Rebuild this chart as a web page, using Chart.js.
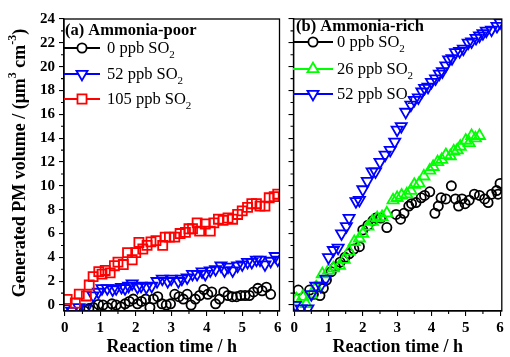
<!DOCTYPE html>
<html>
<head>
<meta charset="utf-8">
<script src="https://cdn.jsdelivr.net/npm/chart.js@4.4.1/dist/chart.umd.min.js"></script>
<style>
  html, body { margin: 0; padding: 0; background: #fff; }
  #wrap { position: relative; width: 510px; height: 357px; }
  #wrap canvas { position: absolute; left: 0; top: 0; }
</style>
</head>
<body>
<div id="wrap">
  <canvas id="poorChart" width="510" height="357"></canvas>
  <canvas id="richChart" width="510" height="357"></canvas>
</div>
<script>
// axis ticks
const xTicks = [0, 1, 2, 3, 4, 5, 6];
const xMinor = [0.5, 1.5, 2.5, 3.5, 4.5, 5.5];
const yTicks = [0, 2, 4, 6, 8, 10, 12, 14, 16, 18, 20, 22, 24];
const yMinor = [1, 3, 5, 7, 9, 11, 13, 15, 17, 19, 21, 23];

// (a) Ammonia-poor
const poorLabels = ['0 ppb SO', '52 ppb SO', '105 ppb SO'];
const poor0T = [0.55,0.68,0.8,0.95,1.08,1.2,1.33,1.45,1.58,1.7,1.82,1.93,2.05,2.16,2.28,2.4,2.5,2.62,2.74,2.86,2.98,3.1,3.22,3.34,3.45,3.56,3.68,3.8,3.92,4.03,4.14,4.25,4.36,4.48,4.6,4.72,4.84,4.96,5.08,5.2,5.32,5.44,5.56,5.68,5.8];
const poor0V = [-0.5,-0.3,-0.2,0.05,0,-0.2,0.1,0,-0.15,0.1,0.3,0.5,0.1,0.3,0.5,-0.2,0.5,0.7,0.1,0,0.1,0.9,0.7,0.5,0.9,0.0,0.5,0.8,1.3,0.9,1.1,0.1,0.5,1.1,0.8,0.7,0.7,0.8,0.8,0.8,1.1,1.4,1.2,1.5,0.9];
const poor52T = [0.0,0.2,0.4,0.6,0.8,0.95,1.05,1.2,1.35,1.45,1.6,1.7,1.8,1.9,2.05,2.15,2.3,2.45,2.6,2.75,2.9,3.0,3.2,3.3,3.45,3.6,3.73,3.87,3.96,4.1,4.25,4.4,4.5,4.6,4.73,4.87,5.0,5.15,5.27,5.4,5.5,5.64,5.8,5.93,6.0];
const poor52V = [-0.3,-0.5,-0.2,-0.3,0.8,1.1,1.4,1.4,1.3,1.4,1.5,1.4,1.6,1.8,1.5,1.6,1.5,1.6,2.0,2.2,2.0,2.2,2.0,2.2,2.3,2.6,2.6,2.8,2.6,2.9,3.0,3.3,2.9,3.2,2.9,3.3,3.4,3.6,3.6,3.8,3.8,3.4,3.7,4.1,3.8];
const poor105T = [0.07,0.3,0.41,0.61,0.69,0.8,0.96,1.05,1.14,1.28,1.4,1.5,1.65,1.77,1.9,2.0,2.09,2.2,2.32,2.43,2.57,2.76,2.83,2.95,3.1,3.25,3.4,3.5,3.6,3.73,3.8,3.96,4.1,4.2,4.33,4.46,4.6,4.73,4.87,5.0,5.15,5.27,5.4,5.5,5.64,5.76,5.9,6.0];
const poor105V = [0.48,0.17,0.92,0.76,1.68,2.38,2.8,2.6,2.9,2.7,3.3,3.6,3.4,4.4,3.8,4.4,5.25,4.7,5.0,5.3,5.4,5.0,5.7,5.7,5.7,6.0,6.1,6.4,6.4,6.9,6.2,6.8,6.2,6.9,7.2,7.1,7.3,7.2,7.6,7.9,8.2,8.5,8.5,8.3,8.3,9.0,9.1,9.3];

// (b) Ammonia-rich
const richLabels = ['0 ppb SO', '26 ppb SO', '52 ppb SO'];
const rich0T = [0.12,0.45,0.56,0.75,0.85,0.94,1.08,1.2,1.34,1.48,1.6,1.74,1.9,2.0,2.15,2.3,2.38,2.52,2.7,2.97,3.1,3.2,3.34,3.42,3.55,3.7,3.8,3.95,4.1,4.2,4.28,4.42,4.58,4.7,4.79,4.89,4.98,5.1,5.25,5.4,5.55,5.65,5.75,5.9,5.94,6.0];
const rich0V = [1.26,1.26,0.9,0.8,1.4,2.1,2.8,3.2,3.6,4.0,4.3,4.7,4.9,6.3,6.7,7.1,7.3,7.3,6.5,7.6,7.2,7.7,8.3,8.5,8.6,9.0,9.2,9.5,7.7,8.3,9.0,8.9,10.0,8.9,8.3,8.9,8.5,8.8,9.3,9.2,8.9,8.6,9.3,9.6,9.3,10.2];
const rich26T = [0.07,0.25,0.35,0.5,0.64,0.82,1.0,1.14,1.32,1.46,1.6,1.75,1.9,2.0,2.15,2.28,2.42,2.56,2.7,2.88,3.0,3.13,3.28,3.4,3.5,3.64,3.78,3.95,4.05,4.18,4.3,4.42,4.55,4.65,4.75,4.84,5.0,5.1,5.17,5.28,5.4];
const rich26V = [0.5,0.7,0.1,0.9,1.5,2.6,2.9,3.1,3.3,3.8,4.5,5.3,5.6,6.0,6.6,7.0,7.3,7.4,7.7,8.8,9.0,9.2,9.3,9.6,10.1,10.2,10.8,11.3,11.6,12.0,12.2,12.6,12.5,12.9,13.0,13.3,13.8,13.6,14.2,14.0,14.2];
const rich52T = [0.03,0.2,0.4,0.5,0.63,0.77,0.92,1.0,1.14,1.28,1.38,1.52,1.6,1.8,1.9,2.0,2.13,2.27,2.37,2.5,2.65,2.8,2.93,3.0,3.12,3.25,3.4,3.5,3.62,3.72,3.8,3.9,4.0,4.12,4.23,4.32,4.42,4.5,4.6,4.7,4.82,4.93,5.07,5.17,5.3,5.4,5.5,5.6,5.75,5.91,6.0];
const rich52V = [0,-0.3,-0.3,0.9,1.6,1.6,2.2,4.0,4.6,4.8,6.0,6.6,7.3,8.7,8.8,9.7,10.4,11.2,11.2,12.0,12.6,13.0,13.7,14.7,15.0,16.2,16.8,17.2,17.4,17.9,18.2,18.3,18.7,19.0,19.4,19.6,20.1,20.6,20.7,21.2,21.3,21.5,22.0,22.1,22.4,22.6,22.8,23.0,23.1,23.4,23.7];

const FONT = "'Liberation Serif', 'Times New Roman', serif";
Chart.defaults.font.family = FONT;
Chart.defaults.color = '#000';

function pts(t, v) {
    return t.map((x, i) => ({ x: x, y: v[i] }));
}

function markerRadius(shape) {
    return shape === 'circle' ? 4.6 : 6.4;
}

function series(label, t, v, color, shape, order) {
    const radius = markerRadius(shape);
    return {
        label: label,
        data: pts(t, v),
        showLine: false,
        pointStyle: shape === 'down' ? 'triangle' : shape,
        rotation: shape === 'down' ? 180 : 0,
        pointRadius: radius,
        pointHoverRadius: radius,
        pointBorderWidth: 1.8,
        borderColor: color,
        backgroundColor: 'rgba(0,0,0,0)',
        clip: 0,
        order: order
    };
}

function drawMarker(ctx, shape, x, y, r) {
    ctx.beginPath();
    if (shape === 'circle') {
        ctx.arc(x, y, r, 0, Math.PI * 2);
    } else if (shape === 'rect') {
        const s = r * Math.SQRT1_2;
        ctx.rect(x - s, y - s, 2 * s, 2 * s);
    } else {
        const d = shape === 'down' ? -1 : 1;
        ctx.moveTo(x, y - d * r);
        ctx.lineTo(x + r * Math.sin(Math.PI * 2 / 3), y + d * r / 2);
        ctx.lineTo(x - r * Math.sin(Math.PI * 2 / 3), y + d * r / 2);
        ctx.closePath();
    }
    ctx.fillStyle = '#fff';
    ctx.fill();
    ctx.stroke();
}

function drawLegend(ctx, lg) {
    ctx.save();
    ctx.fillStyle = '#000';
    ctx.textBaseline = 'middle';
    ctx.textAlign = 'left';
    ctx.font = 'bold 16.5px ' + FONT;
    ctx.fillText(lg.title, lg.titleX, lg.titleY);
    lg.items.forEach(it => {
        ctx.strokeStyle = it.color;
        ctx.lineWidth = 1.8;
        ctx.beginPath();
        ctx.moveTo(lg.x0, it.y);
        ctx.lineTo(lg.x1, it.y);
        ctx.stroke();
        drawMarker(ctx, it.shape, lg.mx, it.y, markerRadius(it.shape));
        ctx.fillStyle = '#000';
        ctx.font = '16.5px ' + FONT;
        ctx.fillText(it.label, lg.tx, it.y + 1);
        const w = ctx.measureText(it.label).width;
        ctx.font = '11px ' + FONT;
        ctx.fillText('2', lg.tx + w, it.y + 7);
    });
    ctx.restore();
}

function drawYTitle(ctx) {
    const parts = [
        ['Generated PM volume / (\u03bcm', 0],
        ['3', 1],
        [' cm', 0],
        ['-3', 1],
        [')', 0]
    ];
    ctx.save();
    ctx.translate(20, 163);
    ctx.rotate(-Math.PI / 2);
    ctx.fillStyle = '#000';
    ctx.textBaseline = 'middle';
    ctx.textAlign = 'left';
    const big = 'bold 18px ' + FONT, small = 'bold 12px ' + FONT;
    let total = 0;
    parts.forEach(p => { ctx.font = p[1] ? small : big; total += ctx.measureText(p[0]).width; });
    let x = -total / 2;
    parts.forEach(p => {
        ctx.font = p[1] ? small : big;
        ctx.fillText(p[0], x, p[1] ? -7 : 0);
        x += ctx.measureText(p[0]).width;
    });
    ctx.restore();
}

function framePlugin(legend, withTitle) {
    return {
        id: 'frame',
        afterDraw(chart) {
            const ctx = chart.ctx, a = chart.chartArea;
            const xs = chart.scales.x, ys = chart.scales.y;
            ctx.save();
            ctx.strokeStyle = '#000';
            ctx.lineWidth = 1.3;
            ctx.strokeRect(a.left, a.top, a.right - a.left, a.bottom - a.top);
            ctx.lineWidth = 1.1;
            ctx.beginPath();
            yMinor.forEach(v => {
                const y = ys.getPixelForValue(v);
                ctx.moveTo(a.left - 3, y);
                ctx.lineTo(a.left, y);
            });
            xMinor.forEach(v => {
                const x = xs.getPixelForValue(v);
                ctx.moveTo(x, a.bottom);
                ctx.lineTo(x, a.bottom + 3);
            });
            ctx.stroke();
            ctx.restore();
            drawLegend(ctx, legend);
            if (withTitle) drawYTitle(ctx);
        }
    };
}

function makeOptions(pad, yWidth, showYLabels) {
    return {
        responsive: false,
        animation: false,
        layout: { padding: pad },
        plugins: { legend: { display: false }, tooltip: { enabled: false } },
        scales: {
            x: {
                type: 'linear',
                min: -0.02,
                max: 6.05,
                afterBuildTicks: s => { s.ticks = xTicks.map(v => ({ value: v })); },
                afterFit: s => { s.height = 46; },
                grid: { drawOnChartArea: false, drawTicks: true, tickLength: 5, color: '#000', lineWidth: 1.1 },
                border: { display: true, color: '#000', width: 1.3 },
                ticks: { color: '#000', font: { size: 15, weight: 'bold' }, padding: 3, maxRotation: 0, autoSkip: false },
                title: { display: true, text: 'Reaction time / h', color: '#000', font: { size: 18, weight: 'bold' }, padding: { top: 0, bottom: -1 } }
            },
            y: {
                type: 'linear',
                min: -0.5,
                max: 24,
                afterBuildTicks: s => { s.ticks = yTicks.map(v => ({ value: v })); },
                afterFit: s => { s.width = yWidth; },
                grid: { drawOnChartArea: false, drawTicks: true, tickLength: 5, color: '#000', lineWidth: 1.1 },
                border: { display: true, color: '#000', width: 1.3 },
                ticks: {
                    color: '#000', font: { size: 15, weight: 'bold' }, padding: 4, autoSkip: false,
                    callback: v => showYLabels ? v : ''
                }
            }
        }
    };
}

new Chart(document.getElementById('poorChart'), {
    type: 'scatter',
    data: {
        datasets: [
            series(poorLabels[0], poor0T, poor0V, '#000000', 'circle', 2),
            series(poorLabels[1], poor52T, poor52V, '#0000ff', 'down', 1),
            series(poorLabels[2], poor105T, poor105V, '#ff0000', 'rect', 0)
        ]
    },
    options: makeOptions({ left: 0, right: 230.5, top: 19, bottom: 0 }, 64, true),
    plugins: [framePlugin({
        title: '(a) Ammonia-poor', titleX: 65, titleY: 30.5,
        x0: 64, x1: 100, mx: 82, tx: 107,
        items: [
            { label: poorLabels[0], color: '#000000', shape: 'circle', y: 48 },
            { label: poorLabels[1], color: '#0000ff', shape: 'down', y: 74 },
            { label: poorLabels[2], color: '#ff0000', shape: 'rect', y: 99 }
        ]
    }, true)]
});

new Chart(document.getElementById('richChart'), {
    type: 'scatter',
    data: {
        datasets: [
            series(richLabels[0], rich0T, rich0V, '#000000', 'circle', 2),
            series(richLabels[1], rich26T, rich26V, '#00ff00', 'triangle', 1),
            series(richLabels[2], rich52T, rich52V, '#0000ff', 'down', 0)
        ]
    },
    options: makeOptions({ left: 287.5, right: 1, top: 19, bottom: 0 }, 6, false),
    plugins: [framePlugin({
        title: '(b) Ammonia-rich', titleX: 296, titleY: 27,
        x0: 293, x1: 333, mx: 313, tx: 337,
        items: [
            { label: richLabels[0], color: '#000000', shape: 'circle', y: 42 },
            { label: richLabels[1], color: '#00ff00', shape: 'triangle', y: 69 },
            { label: richLabels[2], color: '#0000ff', shape: 'down', y: 94 }
        ]
    }, false)]
});
</script>
</body>
</html>
